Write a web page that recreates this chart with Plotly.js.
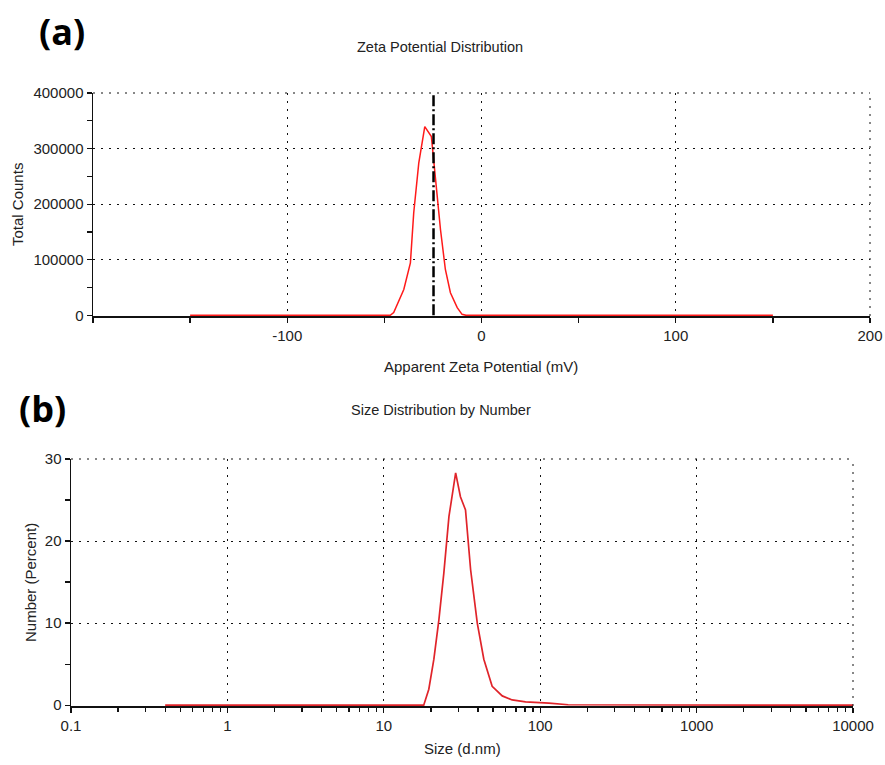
<!DOCTYPE html>
<html><head><meta charset="utf-8">
<script src="https://cdn.plot.ly/plotly-3.0.1.min.js"></script>
<style>html,body{margin:0;padding:0;background:#fff}#chart{width:885px;height:765px}</style>
</head><body><div id="chart"></div>
<script>
// Panel (a): zeta potential distribution
const zetaX = [-150, -47, -45.2, -40, -36.6, -34.9, -32.3, -29.2, -25.8, -23.7, -21.1, -18.6, -16, -12.5, -10, -8, 150];
const zetaY = [0, 0, 5000, 46600, 94500, 184200, 273900, 339500, 321600, 244000, 154000, 82500, 40700, 13800, 1800, 0, 0];
const zetaMean = -24.7;
const zetaTicks = [-100, 0, 100, 200];
const zetaTickText = ["-100", "0", "100", "200"];
const countTicks = [0, 100000, 200000, 300000, 400000];
const countTickText = ["0", "100000", "200000", "300000", "400000"];

// Panel (b): size distribution by number
const sizeX = [0.4, 18.0, 19.4, 20.9, 22.5, 24.2, 26.1, 28.8, 30.9, 33.3, 35.9, 39.6, 43.6, 49.3, 57.2, 66.2, 80.6, 97.8, 113.7, 151, 10000];
const sizeY = [0, 0, 1.94, 5.6, 10.4, 16.1, 23.0, 28.3, 25.4, 23.8, 16.5, 10.0, 5.6, 2.3, 1.13, 0.64, 0.4, 0.33, 0.24, 0.05, 0];
const sizeTickVals = [0.1, 1, 10, 100, 1000, 10000];
const sizeTickText = ["0.1", "1", "10", "100", "1000", "10000"];
const percentTicks = [0, 10, 20, 30];

const W = 885, H = 765;
const minorLog = [];
for (let d = 0.1; d < 10000; d *= 10) for (let k = 2; k <= 9; k++) minorLog.push(+(d * k).toPrecision(3));

const font = {family: "Liberation Sans, Arial, sans-serif", size: 15, color: "#222"};
const gridDash = "2px,6px";

function axisCommon() {
  return {
    showline: true, linecolor: "#111", linewidth: 1.5, layer: "below traces",
    ticks: "outside", ticklen: 5, tickcolor: "#111", tickwidth: 1.3,
    showgrid: true, gridcolor: "#111", gridwidth: 1, griddash: gridDash,
    zeroline: false, tickfont: font, fixedrange: true
  };
}

const traces = [
  {x: zetaX, y: zetaY, xaxis: "x", yaxis: "y", type: "scatter", mode: "lines",
   line: {color: "#ff1a1a", width: 1.5}, hoverinfo: "skip"},
  {x: sizeX, y: sizeY, xaxis: "x2", yaxis: "y2", type: "scatter", mode: "lines",
   line: {color: "#e0242a", width: 1.7}, hoverinfo: "skip"}
];

const layout = {
  width: W, height: H, margin: {l: 0, r: 0, t: 0, b: 0},
  paper_bgcolor: "#fff", plot_bgcolor: "#fff", showlegend: false,
  xaxis: Object.assign(axisCommon(), {
    domain: [93 / W, 870 / W], anchor: "y", range: [-200, 200],
    tickmode: "array", tickvals: zetaTicks, ticktext: zetaTickText,
    minor: {dtick: 50, tick0: 0, ticks: "outside", ticklen: 5, tickcolor: "#111", showgrid: false}
  }),
  yaxis: Object.assign(axisCommon(), {
    domain: [1 - 316 / H, 1 - 93 / H], anchor: "x", range: [-1200, 400000],
    tickmode: "array", tickvals: countTicks, ticktext: countTickText,
    minor: {dtick: 50000, tick0: 0, ticks: "outside", ticklen: 5, tickcolor: "#111", showgrid: false}
  }),
  xaxis2: Object.assign(axisCommon(), {
    domain: [71 / W, 853 / W], anchor: "y2", type: "log", range: [-1, 4],
    tickmode: "array", tickvals: sizeTickVals, ticktext: sizeTickText,
    minor: {tickmode: "array", tickvals: minorLog, ticks: "outside", ticklen: 4, tickcolor: "#111", showgrid: false}
  }),
  yaxis2: Object.assign(axisCommon(), {
    domain: [1 - 706 / H, 1 - 459 / H], anchor: "x2", range: [-0.1, 30],
    tickmode: "array", tickvals: percentTicks,
    minor: {dtick: 5, tick0: 0, ticks: "outside", ticklen: 5, tickcolor: "#111", showgrid: false}
  }),
  shapes: [
    {type: "line", xref: "x", yref: "y", x0: zetaMean, x1: zetaMean, y0: 0, y1: 400000,
     line: {color: "#000", width: 2.5, dash: "11px,3px,2px,3px"}},
    {type: "line", xref: "x domain", yref: "y domain", x0: 0, x1: 1, y0: 1, y1: 1,
     line: {color: "#111", width: 1, dash: gridDash}},
    {type: "line", xref: "x domain", yref: "y domain", x0: 1, x1: 1, y0: 0, y1: 1,
     line: {color: "#111", width: 1, dash: gridDash}},
    {type: "line", xref: "x2 domain", yref: "y2 domain", x0: 0, x1: 1, y0: 1, y1: 1,
     line: {color: "#111", width: 1, dash: gridDash}},
    {type: "line", xref: "x2 domain", yref: "y2 domain", x0: 1, x1: 1, y0: 0, y1: 1,
     line: {color: "#111", width: 1, dash: gridDash}}
  ],
  annotations: [
    {text: "<b>(a)</b>", xref: "paper", yref: "paper", x: 62 / W, y: 1 - 32 / H, xanchor: "center", yanchor: "middle",
     showarrow: false, font: {family: "Open Sans, sans-serif", size: 36, color: "#000"}},
    {text: "<b>(b)</b>", xref: "paper", yref: "paper", x: 42 / W, y: 1 - 408 / H, xanchor: "center", yanchor: "middle",
     showarrow: false, font: {family: "Open Sans, sans-serif", size: 36, color: "#000"}},
    {text: "Zeta Potential Distribution", xref: "paper", yref: "paper", x: 440 / W, y: 1 - 47 / H,
     xanchor: "center", yanchor: "middle", showarrow: false, font: {family: font.family, size: 14.5, color: "#222"}},
    {text: "Apparent Zeta Potential (mV)", xref: "paper", yref: "paper", x: 481 / W, y: 1 - 366 / H,
     xanchor: "center", yanchor: "middle", showarrow: false, font: font},
    {text: "Total Counts", xref: "paper", yref: "paper", x: 18 / W, y: 1 - 205 / H, textangle: -90,
     xanchor: "center", yanchor: "middle", showarrow: false, font: font},
    {text: "Size Distribution by Number", xref: "paper", yref: "paper", x: 441 / W, y: 1 - 410 / H,
     xanchor: "center", yanchor: "middle", showarrow: false, font: {family: font.family, size: 14.5, color: "#222"}},
    {text: "Size (d.nm)", xref: "paper", yref: "paper", x: 462 / W, y: 1 - 748 / H,
     xanchor: "center", yanchor: "middle", showarrow: false, font: font},
    {text: "Number (Percent)", xref: "paper", yref: "paper", x: 30 / W, y: 1 - 583 / H, textangle: -90,
     xanchor: "center", yanchor: "middle", showarrow: false, font: font}
  ]
};

Plotly.newPlot("chart", traces, layout, {displayModeBar: false, staticPlot: true});
</script></body></html>
